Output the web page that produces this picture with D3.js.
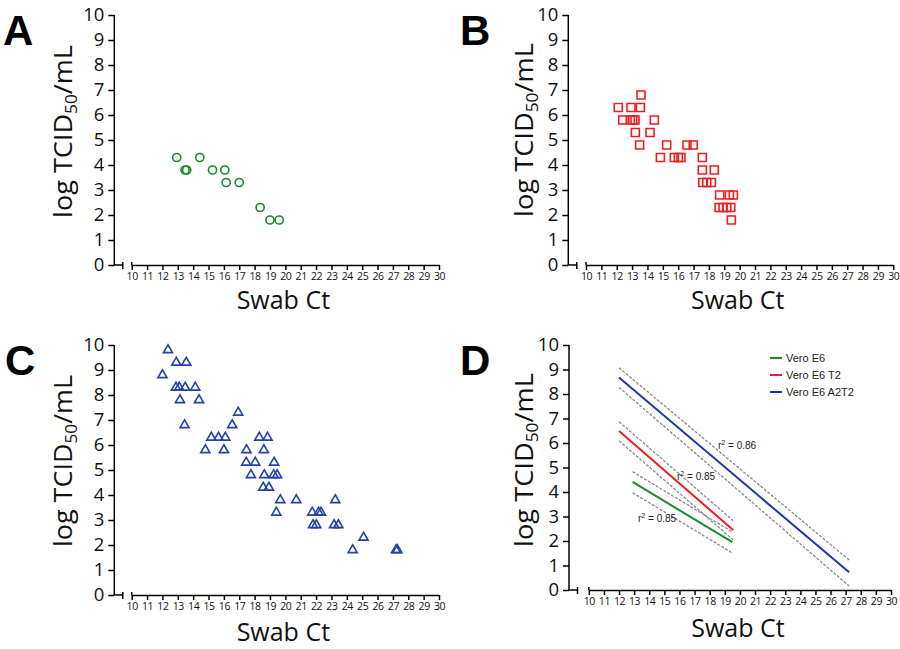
<!DOCTYPE html>
<html><head><meta charset="utf-8">
<script src="https://cdn.jsdelivr.net/npm/d3@7"></script>
<style>body{margin:0;background:#fff}svg{display:block}</style>
</head><body>
<svg id="c" width="900" height="649"></svg>
<script>
// ---- data ----
const xTicks = d3.range(10, 31);
const yTicks = d3.range(0, 11);

const A_ct    = [12.93, 13.47, 13.58, 14.43, 15.26, 16.06, 16.15, 17.0, 18.36, 19.0, 19.6];
const A_titer = [4.3, 3.8, 3.8, 4.3, 3.8, 3.8, 3.3, 3.3, 2.3, 1.8, 1.8];

const B_ct    = [13.58, 12.1, 12.93, 13.54, 12.39, 12.89, 13.04, 13.19, 14.45, 13.21, 14.17,
                 13.49, 15.25, 16.57, 16.98, 14.84, 15.75, 16.01, 16.18, 17.57, 17.57, 18.35,
                 17.6, 17.86, 18.16, 18.7, 19.33, 19.59, 18.66, 18.92, 19.16, 19.42, 19.46];
const B_titer = [6.8, 6.3, 6.3, 6.3, 5.8, 5.8, 5.8, 5.8, 5.8, 5.3, 5.3,
                 4.8, 4.8, 4.8, 4.8, 4.3, 4.3, 4.3, 4.3, 4.3, 3.8, 3.8,
                 3.3, 3.3, 3.3, 2.8, 2.8, 2.8, 2.3, 2.3, 2.3, 2.3, 1.8];

const C_ct    = [12.36, 12.9, 13.55, 12.0, 12.88, 13.09, 13.48, 14.13, 13.14, 14.38, 16.93,
                 13.44, 16.54, 15.18, 15.65, 16.09, 18.3, 18.84, 14.79, 16.0, 17.47, 18.6,
                 17.45, 18.04, 19.27, 17.76, 18.63, 19.24, 19.46, 18.56, 18.93,
                 19.67, 20.71, 23.25, 19.41, 21.75, 22.16, 22.32, 21.8, 22.01, 23.17, 23.45,
                 25.09, 24.38, 27.2, 27.29];
const C_titer = [9.8, 9.3, 9.3, 8.8, 8.3, 8.3, 8.3, 8.3, 7.8, 7.8, 7.3,
                 6.8, 6.8, 6.3, 6.3, 6.3, 6.3, 6.3, 5.8, 5.8, 5.8, 5.8,
                 5.3, 5.3, 5.3, 4.8, 4.8, 4.8, 4.8, 4.3, 4.3,
                 3.8, 3.8, 3.8, 3.3, 3.3, 3.3, 3.3, 2.8, 2.8, 2.8, 2.8,
                 2.3, 1.8, 1.8, 1.8];

const D_series = ["Vero E6", "Vero E6 T2", "Vero E6 A2T2"];
const D_ctRange = [[12.9, 19.5], [12.0, 19.55], [12.0, 27.23]];
const D_fit     = [[4.41, 1.95], [6.49, 2.45], [8.67, 0.72]];
const D_upper   = [[4.83, 2.37], [6.87, 2.83], [9.07, 1.22]];
const D_lower   = [[3.97, 1.51], [6.09, 2.05], [8.27, 0.16]];
const D_r2      = ["0.85", "0.85", "0.86"];

// ---- styles ----
const FONT = "'Open Sans', sans-serif";
const colGreen = "#17892c", colRed = "#ee1d23", colBlue = "#2443a6";
const D_colors = ["#1a8a2e", "#ee1d23", "#1e36a8"];

const svg = d3.select("#c");

function panel(o) {
  const g = svg.append("g");
  const x = d3.scaleLinear().domain([10, 30]).range([o.x10, o.x30]);
  const y = d3.scaleLinear().domain([0, 10]).range([o.y0, o.y10]);

  // y axis
  const ya = g.append("g").attr("transform", `translate(${o.ax},0)`)
    .call(d3.axisLeft(y).tickValues(yTicks).tickSize(6).tickPadding(4).tickSizeOuter(0));
  ya.select(".domain").remove();
  ya.append("line").attr("x1", 0).attr("x2", 0).attr("y1", o.y10).attr("y2", o.y0)
    .attr("stroke", "#000").attr("stroke-width", 1.5);
  ya.selectAll(".tick line").attr("stroke-width", 1.5);
  ya.selectAll(".tick text").attr("font-family", FONT).attr("font-size", 18.5).attr("fill", "#111");

  // break stub
  g.append("line").attr("x1", o.ax).attr("x2", o.ax + 8.5).attr("y1", o.y0).attr("y2", o.y0)
    .attr("stroke", "#000").attr("stroke-width", 1.5);
  g.append("line").attr("x1", o.ax + 8.5).attr("x2", o.ax + 8.5).attr("y1", o.y0 - 3).attr("y2", o.y0 + 4)
    .attr("stroke", "#000").attr("stroke-width", 1.5);

  // x axis
  const xa = g.append("g").attr("transform", `translate(0,${o.y0})`)
    .call(d3.axisBottom(x).tickValues(xTicks).tickSize(5).tickPadding(3).tickSizeOuter(0));
  xa.select(".domain").attr("stroke-width", 1.5);
  xa.selectAll(".tick line").attr("stroke-width", 1.5);
  xa.append("line").attr("x1", x(10)).attr("x2", x(10)).attr("y1", -3).attr("y2", 0)
    .attr("stroke", "#000").attr("stroke-width", 1.5);
  xa.selectAll(".tick text").attr("font-family", FONT).attr("font-size", 10.5)
    .attr("letter-spacing", -0.4).attr("fill", "#111");

  // x title
  g.append("text").attr("x", (x(10) + x(30)) / 2 - 2).attr("y", o.xtY)
    .attr("text-anchor", "middle").attr("font-family", FONT).attr("font-size", 25).attr("fill", "#111")
    .text("Swab Ct");

  // y title
  const yt = g.append("text").attr("text-anchor", "middle")
    .attr("font-family", FONT).attr("font-size", 25).attr("fill", "#111");
  yt.append("tspan").text("log TCID");
  yt.append("tspan").attr("font-size", 16).attr("dy", 5).text("50");
  yt.append("tspan").attr("dy", -5).text("/mL");
  const len = yt.node().getComputedTextLength();
  const sx = o.ytLen / len;
  yt.attr("transform", `translate(${o.ytX},${o.ytY}) rotate(-90) scale(${sx},1)`);

  // panel letter
  g.append("text").attr("x", o.lx).attr("y", o.ly)
    .attr("font-family", "'Liberation Sans', Arial, sans-serif").attr("font-weight", "bold")
    .attr("font-size", 42).attr("fill", "#000").text(o.letter);

  return {g, x, y};
}

function scatter(p, cts, vals, type, size, color) {
  const sym = d3.symbol().type(type).size(size);
  p.g.append("g").selectAll("path").data(cts.map((c, i) => [c, vals[i]])).join("path")
    .attr("transform", d => `translate(${p.x(d[0])},${p.y(d[1])})`)
    .attr("d", sym).attr("fill", "none").attr("stroke", color).attr("stroke-width", 1.6);
}

const pA = panel({letter: "A", lx: 3, ly: 45, ax: 114.3, x10: 131.7, x30: 439, y0: 265, y10: 15,
  xtY: 309, ytX: 72, ytY: 131.5, ytLen: 173});
scatter(pA, A_ct, A_titer, d3.symbolCircle, 52, colGreen);

const pB = panel({letter: "B", lx: 460, ly: 45, ax: 568.3, x10: 586, x30: 893.3, y0: 265, y10: 15,
  xtY: 309, ytX: 533, ytY: 130, ytLen: 174});
scatter(pB, B_ct, B_titer, d3.symbolSquare, 64, colRed);

const pC = panel({letter: "C", lx: 5, ly: 375, ax: 114.3, x10: 131.7, x30: 439, y0: 595, y10: 345,
  xtY: 641, ytX: 72, ytY: 461, ytLen: 172});
scatter(pC, C_ct, C_titer, d3.symbolTriangle, 36, colBlue);

const pD = panel({letter: "D", lx: 460, ly: 375, ax: 569, x10: 588.8, x30: 891, y0: 590, y10: 345,
  xtY: 637, ytX: 533, ytY: 460, ytLen: 174});

// D: regression lines with confidence bands
const line = d3.line().x(d => pD.x(d[0])).y(d => pD.y(d[1]));
D_series.forEach((s, i) => {
  const cts = D_ctRange[i];
  [D_upper[i], D_lower[i]].forEach(b => {
    pD.g.append("path").attr("d", line(cts.map((c, k) => [c, b[k]])))
      .attr("fill", "none").attr("stroke", "#8a8a8a").attr("stroke-width", 1.3)
      .attr("stroke-dasharray", "3,1.5");
  });
});
D_series.forEach((s, i) => {
  const cts = D_ctRange[i];
  pD.g.append("path").attr("d", line(cts.map((c, k) => [c, D_fit[i][k]])))
    .attr("fill", "none").attr("stroke", D_colors[i]).attr("stroke-width", 2);
});

// r² labels
const r2pos = [[638, 522], [677, 480], [718, 449]];
D_r2.forEach((r, i) => {
  const t = pD.g.append("text").attr("x", r2pos[i][0]).attr("y", r2pos[i][1])
    .attr("font-family", "'Liberation Sans', Arial, sans-serif").attr("font-size", 10).attr("fill", "#222");
  t.append("tspan").text("r");
  t.append("tspan").attr("dy", -4).attr("font-size", 7).text("2");
  t.append("tspan").attr("dy", 4).text(" = " + r);
});

// legend
D_series.forEach((s, i) => {
  const cy = 358 + i * 17;
  pD.g.append("line").attr("x1", 770).attr("x2", 782).attr("y1", cy).attr("y2", cy)
    .attr("stroke", D_colors[i]).attr("stroke-width", 2);
  pD.g.append("text").attr("x", 786).attr("y", cy + 4)
    .attr("font-family", "'Liberation Sans', Arial, sans-serif").attr("font-size", 11).attr("fill", "#222")
    .text(s);
});
</script>
</body></html>
